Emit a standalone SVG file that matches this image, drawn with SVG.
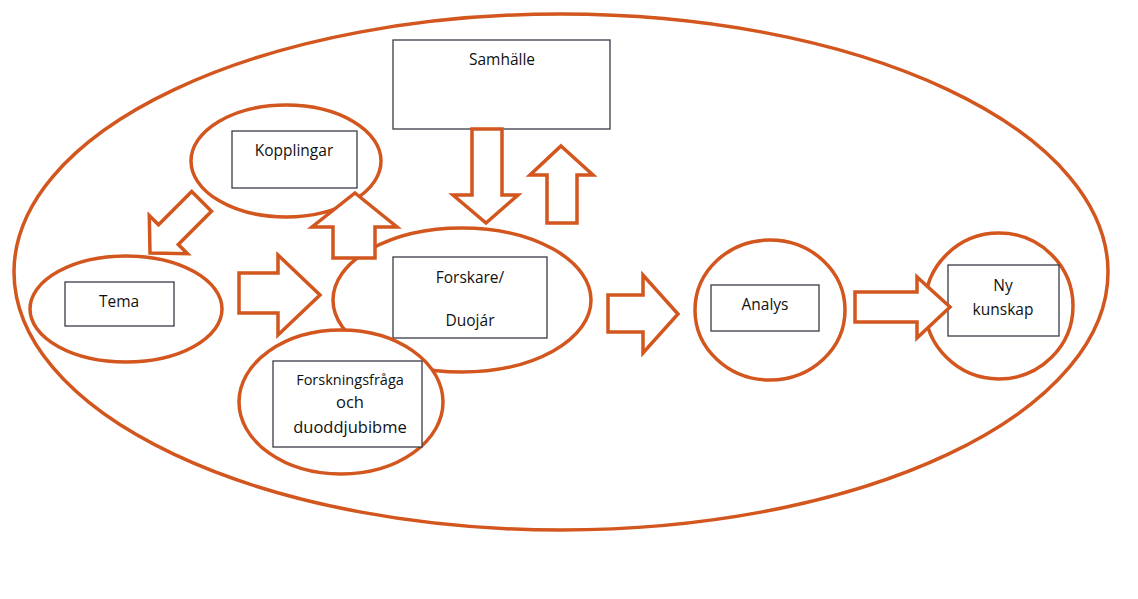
<svg xmlns="http://www.w3.org/2000/svg" width="1138" height="599" viewBox="0 0 1138 599">
<style>
.o{fill:#fff;stroke:#D2561E;stroke-width:3.5}
.outer{fill:none;stroke:#D2561E;stroke-width:3.5}
.r{fill:#fff;stroke:#3a3a48;stroke-width:1.3}
.t{font-family:"Open Sans","Liberation Sans",sans-serif;font-size:15.5px;fill:#111;text-anchor:middle}
.a{fill:#fff;stroke:#D2561E;stroke-width:3.5;stroke-linejoin:miter}
</style>
<rect width="1138" height="599" fill="#fff"/>
<ellipse class="outer" cx="561" cy="272" rx="547" ry="258"/>
<g id="samhalle">
<rect class="r" x="393" y="40" width="217" height="89"/>
<text class="t" x="502" y="65">Samhälle</text>
</g>
<g id="kopplingar">
<ellipse class="o" cx="286" cy="161" rx="95" ry="56"/>
<rect class="r" x="232" y="131" width="125" height="57"/>
<text class="t" x="294" y="156">Kopplingar</text>
</g>
<g id="tema">
<ellipse class="o" cx="126" cy="309" rx="96" ry="53"/>
<rect class="r" x="65" y="282" width="109" height="44"/>
<text class="t" x="119" y="307">Tema</text>
</g>
<g id="forskare">
<ellipse class="o" cx="462" cy="300" rx="129" ry="72"/>
<rect class="r" x="393" y="257" width="154" height="81"/>
<text class="t" x="470" y="283">Forskare/</text>
<text class="t" x="470" y="326">Duojár</text>
</g>
<g id="forskningsfraga">
<ellipse class="o" cx="341" cy="402" rx="102" ry="72"/>
<rect class="r" x="273" y="361" width="149" height="86"/>
<text class="t" x="350" y="385" style="font-size:14.5px">Forskningsfråga</text>
<text class="t" x="350" y="408" style="font-size:16.5px">och</text>
<text class="t" x="350" y="433" style="font-size:16.5px">duoddjubibme</text>
</g>
<g id="analys">
<ellipse class="o" cx="770" cy="310" rx="75" ry="70"/>
<rect class="r" x="711" y="285" width="108" height="46"/>
<text class="t" x="765" y="310">Analys</text>
</g>
<g id="nykunskap">
<ellipse class="o" cx="999" cy="306" rx="74" ry="73"/>
<rect class="r" x="948" y="265" width="111" height="71"/>
<text class="t" x="1003" y="291">Ny</text>
<text class="t" x="1003" y="315">kunskap</text>
</g>
<g id="connectors">
<polygon class="a" points="150,253 187.5,253.7 178.3,244.5 211.5,211.3 191.7,191.5 158.5,224.7 149.3,215.5"/>
<polygon class="a" points="239,273 278,273 278,255 320,295 278,335 278,313 239,313"/>
<polygon class="a" points="608,295 643,295 643,275 678,314 643,353 643,332 608,332"/>
<polygon class="a" points="855,292 917,292 917,277 950,307 917,338 917,322 855,322"/>
<polygon class="a" points="472,129 502,129 502,195 518,195 486,223 453,195 472,195"/>
<polygon class="a" points="561,146 593,175 577,175 577,223 547,223 547,175 530,175"/>
<polygon class="a" points="355,193 397,227 375,227 375,258 333,258 333,227 312,227"/>
</g>
</svg>
